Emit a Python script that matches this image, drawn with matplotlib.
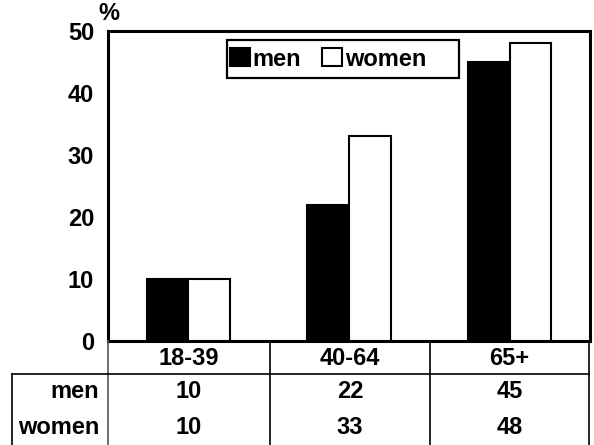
import matplotlib
matplotlib.use("Agg")
import matplotlib.pyplot as plt
import numpy as np
from matplotlib.lines import Line2D
from matplotlib.patches import Rectangle

plt.rcParams['font.family'] = ['Liberation Sans', 'DejaVu Sans']
plt.rcParams['font.weight'] = 'bold'

categories = ["18-39", "40-64", "65+"]
men = [10, 22, 45]
women = [10, 33, 48]
series_names = ["men", "women"]
yticks = [0, 10, 20, 30, 40, 50]

FS = 17
W, H = 594, 445
fig = plt.figure(figsize=(W / 100, H / 100), dpi=100)
ax_l, ax_r, ax_t, ax_b = 108, 590, 31, 341
ax = fig.add_axes([ax_l / W, 1 - ax_b / H, (ax_r - ax_l) / W, (ax_b - ax_t) / H])

x = np.arange(len(categories))
bw = 0.26
ax.bar(x - bw / 2, men, bw, color="black", edgecolor="black", linewidth=1.5,
       label=series_names[0], zorder=3)
ax.bar(x + bw / 2, women, bw, color="white", edgecolor="black", linewidth=1.5,
       label=series_names[1], zorder=3)

ax.set_xlim(-0.5, len(categories) - 0.5)
ax.set_ylim(0, 50)
ax.set_yticks(yticks)
ax.set_yticklabels([str(t) for t in yticks], fontsize=FS, fontweight="bold")
ax.set_xticks([])
ax.tick_params(axis="y", length=0, pad=10)
for s in ax.spines.values():
    s.set_linewidth(2.2)
    s.set_color("black")

# percent sign above the value axis
fig.text(98 / W, 1 - 13 / H, "%", fontsize=FS, fontweight="bold",
         ha="left", va="center")

def fx(px):
    return px / W

def fy(py):
    return 1 - py / H

# legend inside a wide boxed frame
fig.add_artist(Rectangle((fx(227), fy(78)), fx(459) - fx(227), fy(40) - fy(78),
                         transform=fig.transFigure, facecolor="white",
                         edgecolor="black", linewidth=1.6, zorder=4))
leg = fig.legend(*ax.get_legend_handles_labels(), ncol=2, loc="center left",
                 bbox_to_anchor=(fx(230), fy(59)), fontsize=FS, frameon=False,
                 handlelength=0.85, handleheight=0.8, handletextpad=0.1,
                 columnspacing=0.9, borderpad=0, borderaxespad=0)
leg.set_zorder(5)
for t in leg.get_texts():
    t.set_fontweight("bold")

# data table beneath the chart
col_edges = [108, 270, 430, 589]
row_edges = [341, 374, 408, 445]
row_label_left = 12

def line(x0, y0, x1, y1, color="black", lw=1.2):
    fig.add_artist(Line2D([fx(x0), fx(x1)], [fy(y0), fy(y1)], color=color,
                          linewidth=lw, transform=fig.transFigure))

line(108, 341, 108, 450, color="#555555")
for cx in col_edges[1:]:
    line(cx, 341, cx, 450)
line(row_label_left, 374, 589, 374)
line(row_label_left, 374, row_label_left, 450)

centers = [(col_edges[i] + col_edges[i + 1]) / 2 for i in range(3)]
header_y = (row_edges[0] + row_edges[1]) / 2 + 1
for cx, cat in zip(centers, categories):
    fig.text(fx(cx), fy(header_y), cat, fontsize=FS, fontweight="bold",
             ha="center", va="center")

rows = [(series_names[0], men), (series_names[1], women)]
row_centers = [391, 428]
for (name, vals), ry in zip(rows, row_centers):
    fig.text(fx(99), fy(ry), name, fontsize=FS, fontweight="bold",
             ha="right", va="center")
    for cx, v in zip(centers, vals):
        fig.text(fx(cx), fy(ry), str(v), fontsize=FS, fontweight="bold",
                 ha="center", va="center")

fig.savefig("out.png", dpi=100)
